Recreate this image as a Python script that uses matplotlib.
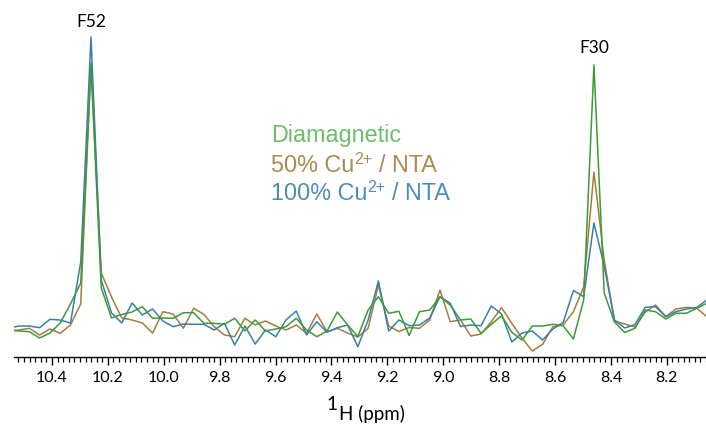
import numpy as np
import matplotlib
matplotlib.use("Agg")
import matplotlib.pyplot as plt
from matplotlib.ticker import MultipleLocator, FormatStrFormatter
from matplotlib.transforms import IdentityTransform

# ---- data ----
ppm_first = 10.5543   # first sampled point (clipped at left edge)
ppm_last = 8.0570     # last sampled point
n_points = 69
ppm = np.linspace(ppm_first, ppm_last, n_points)

diamagnetic = [0, -1, -1.7, -8, -3, 7, 26, 47, 264, 42, 12, 15.5, 18, 23.3, 11.7, 12,
               11.7, 17.3, 17.3, 6.7, 6.7, 5.7, 11.7, -1, 10, -1, 1, 3.3, 11.7, 0,
               -6.7, -1, 18, 5, -6.5, 20, 33.3, 16.7, 18.7, -5.5, 18.3, 20, 33.3, 25,
               10, 11, -3.3, 5.7, 14.3, -2.3, -10, 4, 4, 5.7, 4.3, -9, 30, 265, 37,
               8, -2.5, 1.7, 20, 18.3, 11, 16.7, 16.7, 21.7, 26.7]

cu50 = [-1, 0, 1.7, -5, 1, -3.3, 5, 26, 267, 57, 33, 12, 10, 7, -3, 18.3,
        16, 1.7, 21.7, 15.7, 3.3, -5, -6.7, 11.7, 5, 9, 4, 0, 5, -3.3,
        16, -1.7, 1.7, -3, -7, 1.7, 45, 4, -1.5, 2.5, 1.7, 10, 40, 8.3,
        10, -6, -4, 8.3, 22.3, 6.7, -8.3, -21, -14.3, 3.3, 5, 18.3, 43, 158, 70,
        9, 6, 3, 18, 25, 13.5, 21, 22.7, 22, 13.3]

cu100 = [2, 4, 4, 2.3, 10.7, 10, 7, 68, 293, 50, 17, 7, 27, 15, 21, 9,
         3.3, 6, 5.7, 5.7, 0, 6.7, -15, 4, -14, 0, -6.7, 10, 19, -5,
         8.3, -2.3, 2.3, 5, -16.7, 10, 49, -1, 10, 4.3, 5, 12, 33.3, 26.7,
         3.5, 5, 4.3, 24, 16, -12, -3, -1, -10, 1, 7.5, 39.5, 33.3, 107, 64,
         10, 2, 5.5, 22.7, 23.3, 13.3, 18.3, 21, 22.3, 30]

peak_labels = ["F52", "F30"]
peak_ppm = [10.2605, 8.461]
legend_parts = [
    [("Diamagnetic", False)],
    [("50% Cu", False), ("2+", True), ("/ NTA", False)],
    [("100% Cu", False), ("2+", True), ("/ NTA", False)],
]

# ---- styling ----
line_colors = {"dia": "#3d9b35", "c50": "#a57d3c", "c100": "#3b7eac"}
text_colors = ["#6cbf66", "#a98b4e", "#4d8db4"]

fig = plt.figure(figsize=(7.06, 4.25), dpi=100)
ax = fig.add_axes([14 / 706, 68 / 425, 692 / 706, 357 / 425])

ax.plot(ppm, cu50, color=line_colors["c50"], lw=1.1)
ax.plot(ppm, cu100, color=line_colors["c100"], lw=1.1)
ax.plot(ppm, diamagnetic, color=line_colors["dia"], lw=1.1)

ax.set_ylim(-27, 330)

for s in ["left", "right", "top"]:
    ax.spines[s].set_visible(False)
ax.spines["bottom"].set_linewidth(1.0)
ax.set_yticks([])
ax.xaxis.set_major_locator(MultipleLocator(0.2))
ax.xaxis.set_minor_locator(MultipleLocator(0.02))
ax.xaxis.set_major_formatter(FormatStrFormatter("%.1f"))
ax.tick_params(axis="x", which="major", length=6, width=1.0, direction="out",
               labelsize=11.5, pad=4)
ax.tick_params(axis="x", which="minor", length=3.5, width=0.9, direction="out")
ax.set_xlim(10.536, 8.060)
for lbl in ax.get_xticklabels():
    lbl.set_family("Lato")

# peak labels
ax.text(peak_ppm[0], 308, peak_labels[0], ha="center", va="center",
        fontsize=12.5, family="Lato")
ax.text(peak_ppm[1], 282, peak_labels[1], ha="center", va="center",
        fontsize=12.5, family="Lato")

# legend-like text with real superscripts
renderer = fig.canvas.get_renderer()
H = 425
baselines = [142, 171.5, 200]
for parts, c, yb in zip(legend_parts, text_colors, baselines):
    x = 271.0
    for txt, sup in parts:
        size = 11.5 if sup else 16.8
        yy = (H - yb + 7.5) if sup else (H - yb)
        t = fig.text(x, yy, txt, color=c, fontsize=size, family="Liberation Sans",
                     va="baseline", ha="left", transform=IdentityTransform())
        bb = t.get_window_extent(renderer=renderer)
        x = bb.x1 + (7.0 if sup else 0)

# axis label: "1H (ppm)" with a raised 1
fig.text(337 / 706, 1 - 410 / 425, "1", fontsize=13.5, family="Lato",
         ha="right", va="baseline")
fig.text(339 / 706, 1 - 420 / 425, "H (ppm)", fontsize=13.5, family="Lato",
         ha="left", va="baseline")

fig.savefig("out.png", dpi=100)
